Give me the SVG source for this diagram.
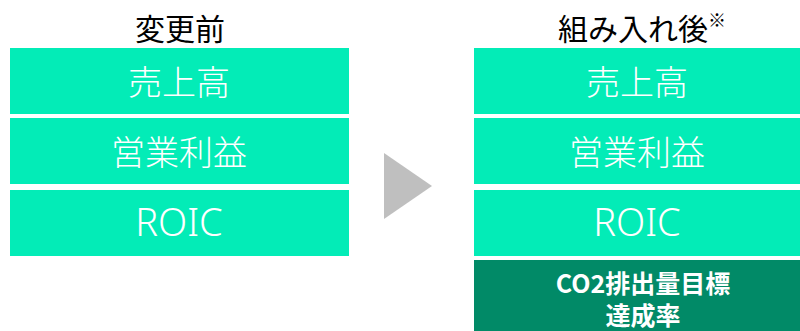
<svg xmlns="http://www.w3.org/2000/svg" width="800" height="331" viewBox="0 0 800 331">
<style>
.box{fill:#03ECB7}
.dark{fill:#018A67}
.t{font-family:"Noto Sans CJK JP","Noto Sans",sans-serif;fill:#fff;text-anchor:middle;dominant-baseline:central;font-size:34px;font-weight:300}
.r{font-family:"Noto Sans","Noto Sans CJK JP",sans-serif;fill:#fff;text-anchor:middle;dominant-baseline:central;font-size:38px;font-weight:300}
.h{font-family:"Noto Sans CJK JP",sans-serif;fill:#000;text-anchor:middle;dominant-baseline:central;font-size:30px}
.b{font-family:"Noto Sans CJK JP",sans-serif;fill:#fff;text-anchor:middle;dominant-baseline:central;font-size:25px;font-weight:bold}
.s{font-size:18px}
</style>
<g id="title-before"><text class="h" x="180" y="27">変更前</text></g>
<g id="title-after"><text class="h" x="642" y="27">組み入れ後<tspan class="s" dy="-8">※</tspan></text></g>
<g id="before-sales"><rect class="box" x="10" y="48" width="339" height="66"/><text class="t" x="179" y="80">売上高</text></g>
<g id="before-op"><rect class="box" x="10" y="118" width="339" height="66"/><text class="t" x="179" y="150">営業利益</text></g>
<g id="before-roic"><rect class="box" x="10" y="190" width="339" height="66"/><text class="r" x="179" y="221">ROIC</text></g>
<g id="after-sales"><rect class="box" x="474" y="48" width="326" height="66"/><text class="t" x="637" y="80">売上高</text></g>
<g id="after-op"><rect class="box" x="474" y="118" width="326" height="66"/><text class="t" x="637" y="150">営業利益</text></g>
<g id="after-roic"><rect class="box" x="474" y="190" width="326" height="66"/><text class="r" x="637" y="221">ROIC</text></g>
<g id="after-co2"><rect class="dark" x="474" y="260" width="326" height="71"/><text class="b" x="643" y="282">CO2排出量目標<tspan x="643" dy="32">達成率</tspan></text></g>
<g id="connectors"><polygon points="384,153 432,186 384,219" fill="#BFBFBF"/></g>
</svg>
